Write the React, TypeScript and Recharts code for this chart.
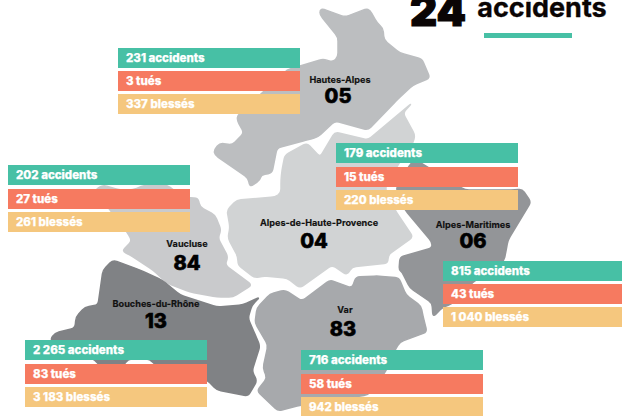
import { ScatterChart, Scatter, XAxis, YAxis } from 'recharts'

const WIDTH = 622
const HEIGHT = 416
const FONT = 'Inter, "Open Sans", sans-serif'

// figures per department, same order everywhere
const departments = ['Hautes-Alpes', 'Vaucluse', 'Alpes-de-Haute-Provence', 'Alpes-Maritimes', 'Bouches-du-Rhône', 'Var']
const codes = ['05', '84', '04', '06', '13', '83']
const accidents = [231, 202, 179, 815, 2265, 716]
const tues = [3, 27, 15, 43, 83, 58]
const blesses = [337, 261, 220, 1040, 3183, 942]

// layout, in page pixels
const panelLeft = [118, 8, 336, 443, 25, 301]
const panelRows = [
  [48, 71, 94],
  [165, 189, 212],
  [143, 167, 190],
  [261, 284, 307],
  [340, 364, 387],
  [350, 374, 397],
]
const nameAnchors = [
  { x: 340, y: 83 },
  { x: 187, y: 247 },
  { x: 319, y: 226 },
  { x: 473, y: 228 },
  { x: 156, y: 307 },
  { x: 345, y: 313 },
]
const codeAnchors = [
  { x: 338, y: 102.5 },
  { x: 187, y: 270 },
  { x: 314, y: 248 },
  { x: 473, y: 248 },
  { x: 156, y: 328 },
  { x: 343, y: 336 },
]

// department outlines
const outline05 = [
  [320, 10], [323, 9], [345, 17], [366, 9], [370, 10], [377, 23], [383, 28], [384, 40], [400, 53], [422, 59],
  [430, 78], [413, 85], [397, 100], [368, 130], [335, 121], [318, 137], [307, 140], [277, 148], [272, 173],
  [261, 175], [260, 180], [250, 187], [248, 178], [215, 155], [214, 150], [220, 143], [232, 145], [244, 133],
  [237, 120], [238, 115], [262, 93], [287, 70], [323, 59], [333, 62], [338, 57], [338, 37], [320, 15],
]
const outline84 = [
  [127, 232], [110, 210], [95, 190], [103, 185], [120, 190], [133, 190], [145, 185], [167, 185], [180, 195],
  [190, 198], [198, 198], [200, 207], [215, 215], [221, 230], [218, 238], [228, 257], [225, 265], [252, 285],
  [233, 297], [217, 297], [190, 292], [167, 283], [153, 270], [130, 255], [122, 251], [132, 241],
]
const outline04 = [
  [285, 155], [307, 143], [320, 157], [335, 132], [368, 140], [412, 103], [403, 113], [415, 135], [413, 143],
  [398, 165], [385, 188], [395, 210], [413, 237], [388, 255], [388, 263], [352, 267], [347, 275], [332, 265],
  [300, 288], [287, 278], [263, 276], [255, 278], [238, 265], [238, 257], [228, 238], [230, 227], [227, 210],
  [237, 200], [275, 197], [281, 193], [281, 180], [282, 170],
]
const outline06 = [
  [416, 161], [421, 163], [465, 190], [515, 190], [522, 189], [531, 202], [508, 240], [506, 251], [504, 261],
  [473, 282], [452, 304], [443, 307], [433, 317], [432, 303], [410, 288], [402, 272], [399, 270], [400, 257],
  [432, 248], [432, 242], [405, 210], [396, 188], [411, 163],
]
const outline13 = [
  [113, 260], [140, 270], [162, 280], [180, 295], [217, 307], [243, 305], [260, 297], [252, 305], [248, 318],
  [260, 346], [252, 371], [257, 381], [248, 396], [217, 390], [207, 380], [155, 365], [150, 359], [128, 359],
  [124, 365], [99, 365], [95, 360], [50, 340], [55, 333], [75, 328], [76, 317], [85, 307], [98, 305], [103, 270],
]
const outline83 = [
  [270, 294], [285, 290], [302, 301], [330, 280], [352, 288], [356, 277], [378, 276], [399, 278], [406, 295],
  [421, 306], [423, 316], [427, 332], [400, 342], [395, 350], [386, 371], [368, 395], [301, 405], [278, 411],
  [257, 391], [267, 378], [263, 368], [268, 345], [255, 323], [257, 308],
]
const regions = [
  { points: outline05, color: '#bcbec0' },
  { points: outline84, color: '#c9cacc' },
  { points: outline04, color: '#d1d3d4' },
  { points: outline06, color: '#939598' },
  { points: outline13, color: '#808285' },
  { points: outline83, color: '#a7a9ac' },
]

const rowColors = ['#47c0a5', '#f67a60', '#f5c77e']
const PANEL_WIDTH = 182
const ROW_HEIGHT = 20
const CORNER = 4

const fmt = (n: number) => String(n).replace(/\B(?=(\d{3})+$)/g, ' ')

const rows = departments.flatMap((_, i) => [
  { x: panelLeft[i], y: panelRows[i][0], text: `${fmt(accidents[i])} accidents`, color: rowColors[0] },
  { x: panelLeft[i], y: panelRows[i][1], text: `${fmt(tues[i])} tués`, color: rowColors[1] },
  { x: panelLeft[i], y: panelRows[i][2], text: `${fmt(blesses[i])} blessés`, color: rowColors[2] },
])
const nameLabels = departments.map((name, i) => ({ ...nameAnchors[i], text: name }))
const codeLabels = codes.map((code, i) => ({ ...codeAnchors[i], text: code }))

// closed path with the corners rounded off
const roundedPath = (pts: { x: number; y: number }[]) => {
  const towards = (a: any, b: any) => {
    const d = Math.hypot(b.x - a.x, b.y - a.y) || 1
    const t = Math.min(CORNER, d / 2) / d
    return { x: a.x + (b.x - a.x) * t, y: a.y + (b.y - a.y) * t }
  }
  return (
    pts
      .map((p, i) => {
        const start = towards(p, pts[(i - 1 + pts.length) % pts.length])
        const end = towards(p, pts[(i + 1) % pts.length])
        return `${i === 0 ? 'M' : 'L'}${start.x},${start.y} Q${p.x},${p.y} ${end.x},${end.y}`
      })
      .join(' ') + ' Z'
  )
}

const RegionShape = (color: string) => (props: any) => (
  <path d={roundedPath(props.points)} fill={color} stroke={color} strokeWidth={1.5} strokeLinejoin="round" />
)

const RowShape = ({ cx, cy, payload }: any) => (
  <g>
    <rect x={cx} y={cy} width={PANEL_WIDTH} height={ROW_HEIGHT} fill={payload.color} />
    <text x={cx + 8} y={cy + 14} fill="#fff" stroke="#fff" strokeWidth={0.25} fontFamily={FONT} fontSize={11.5} fontWeight={800}>
      {payload.text}
    </text>
  </g>
)

const NameShape = ({ cx, cy, payload }: any) => (
  <text x={cx} y={cy} textAnchor="middle" fill="#111" stroke="#111" strokeWidth={0.15} fontFamily={FONT} fontSize={9.15} fontWeight={700}>
    {payload.text}
  </text>
)

const CodeShape = ({ cx, cy, payload }: any) => (
  <text x={cx} y={cy} textAnchor="middle" fill="#000" stroke="#000" strokeWidth={0.6} fontFamily={FONT} fontSize={20} fontWeight={800}>
    {payload.text}
  </text>
)

const titleCount = [{ x: 438, y: 26, text: '24' }]
const titleWord = [{ x: 542, y: 17, text: 'accidents' }]
const underline = [{ x: 484, y: 33 }]

export default function App() {
  return (
    <div style={{ position: 'fixed', left: 0, top: 0, width: WIDTH, height: HEIGHT, background: '#fff', overflow: 'hidden' }}>
      <ScatterChart width={WIDTH} height={HEIGHT} margin={{ top: 0, right: 0, bottom: 0, left: 0 }}>
        <XAxis type="number" dataKey="x" domain={[0, WIDTH]} hide allowDataOverflow />
        <YAxis type="number" dataKey="y" domain={[0, HEIGHT]} reversed hide allowDataOverflow />
        {regions.map((r, i) => (
          <Scatter
            key={i}
            data={r.points.map(([x, y]) => ({ x, y }))}
            line={RegionShape(r.color)}
            shape={() => null}
            isAnimationActive={false}
          />
        ))}
        <Scatter data={nameLabels} shape={NameShape} isAnimationActive={false} />
        <Scatter data={codeLabels} shape={CodeShape} isAnimationActive={false} />
        <Scatter data={rows} shape={RowShape} isAnimationActive={false} />
        <Scatter
          data={titleCount}
          isAnimationActive={false}
          shape={({ cx, cy, payload }: any) => (
            <text x={cx} y={cy} textAnchor="middle" fill="#0a0505" stroke="#0a0505" strokeWidth={1.2} fontFamily={FONT} fontSize={42} fontWeight={900}>
              {payload.text}
            </text>
          )}
        />
        <Scatter
          data={titleWord}
          isAnimationActive={false}
          shape={({ cx, cy, payload }: any) => (
            <text x={cx} y={cy} textAnchor="middle" fill="#0a0505" stroke="#0a0505" strokeWidth={0.3} fontFamily={FONT} fontSize={27} fontWeight={700}>
              {payload.text}
            </text>
          )}
        />
        <Scatter
          data={underline}
          isAnimationActive={false}
          shape={({ cx, cy }: any) => <rect x={cx} y={cy} width={88} height={5} fill={rowColors[0]} />}
        />
      </ScatterChart>
    </div>
  )
}
